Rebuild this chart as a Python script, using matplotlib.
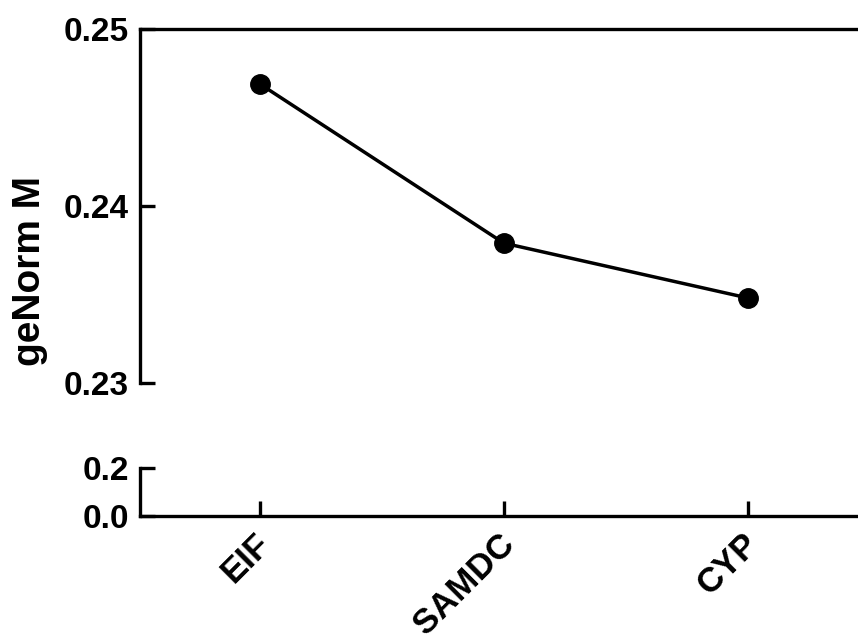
import matplotlib.pyplot as plt
from matplotlib.ticker import FormatStrFormatter
from matplotlib.transforms import ScaledTranslation

genes = ['EIF', 'SAMDC', 'CYP']
m_values = [0.2469, 0.2379, 0.2348]

plt.rcParams['font.family'] = 'Liberation Sans'
plt.rcParams['font.weight'] = 'bold'

fig = plt.figure(figsize=(8.58, 6.41), dpi=100)
x = list(range(len(genes)))

# upper part of the broken axis
ax_top = fig.add_axes([0.1632, 0.4025, 0.851, 0.5523])
ax_top.plot(x, m_values, color='black', linewidth=2.5, marker='o',
            markersize=14, clip_on=False)
ax_top.set_xlim(-0.49, 2.5)
ax_top.set_ylim(0.23, 0.25)
ax_top.set_yticks([0.23, 0.24, 0.25])
ax_top.yaxis.set_major_formatter(FormatStrFormatter('%.2f'))
ax_top.set_xticks([])
for side in ['right', 'bottom']:
    ax_top.spines[side].set_visible(False)
for side in ['top', 'left']:
    ax_top.spines[side].set_linewidth(2.4)
ax_top.tick_params(axis='y', direction='in', length=11, width=2.4,
                   labelsize=24, pad=8)

# lower part
ax_bot = fig.add_axes([0.1632, 0.195, 0.851, 0.0749])
ax_bot.set_xlim(-0.49, 2.5)
ax_bot.set_ylim(0.0, 0.2)
ax_bot.set_yticks([0.0, 0.2])
ax_bot.yaxis.set_major_formatter(FormatStrFormatter('%.1f'))
ax_bot.set_xticks(x)
ax_bot.set_xticklabels(genes, rotation=45, ha='right', va='top',
                       rotation_mode='anchor')
for side in ['right', 'top']:
    ax_bot.spines[side].set_visible(False)
for side in ['bottom', 'left']:
    ax_bot.spines[side].set_linewidth(2.4)
ax_bot.tick_params(axis='both', direction='in', length=11, width=2.4,
                   labelsize=24, pad=8)
ax_bot.tick_params(axis='x', pad=8, labelsize=25)
shift = ScaledTranslation(-0.06, 0, fig.dpi_scale_trans)
for lab in ax_bot.get_xticklabels():
    lab.set_transform(lab.get_transform() + shift)

fig.text(0.035, 0.578, 'geNorm M', rotation=90, ha='center', va='center',
         fontsize=28, fontweight='bold')

fig.savefig('out.png', dpi=100, facecolor='white')
